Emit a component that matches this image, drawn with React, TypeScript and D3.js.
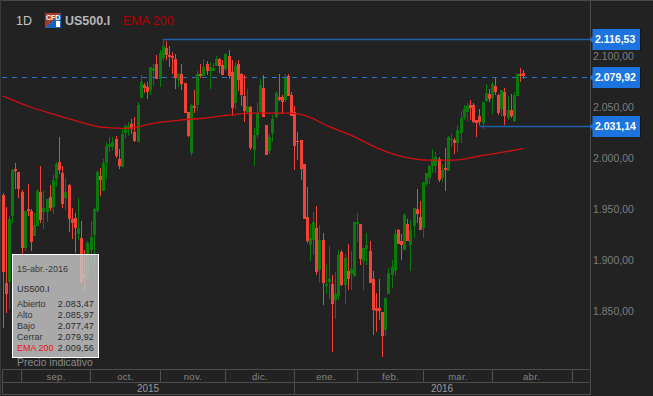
import React from "react";
import * as d3 from "d3";

const opens = [1964,1878,1879,1943,1989,1986,1967,1912,1950,1948,1924,1933,1967,1947,1947,1962,1952,1979,1996,1985,1961,1974,1940,1941,1926,1922,1885,1884,1910,1925,1948,1982,1968,1995,2011,2011,2019,1999,1991,2025,2028,2033,2026,2016,2059,2072,2070,2067,2085,2092,2077,2098,2108,2101,2100,2097,2076,2082,2074,2045,2005,2051,2052,2082,2080,2092,2085,2085,2090,2097,2091,2087,2100,2084,2054,2092,2082,2061,2045,2050,2008,2023,2045,2069,2032,2007,2025,2040,2060,2060,2057,2080,2062,2045,2017,2018,1994,1942,1915,1920,1931,1890,1920,1875,1879,1877,1861,1865,1908,1876,1889,1886,1884,1936,1935,1899,1911,1909,1881,1853,1853,1849,1831,1867,1885,1889,1929,1919,1910,1935,1915,1933,1950,1942,1931,1975,1980,1992,1992,1999,1980,1990,1987,2018,2018,2015,2025,2039,2045,2052,2052,2037,2041,2034,2056,2063,2059,2071,2062,2048,2065,2039,2047,2036,2061,2082,2083.47];
const highs = [1966,1952,1943,1989,1995,1986,1969,1948,1975,1950,1946,1970,1992,1968,1960,1974,1983,1996,2021,1992,1980,1975,1951,1946,1961,1938,1910,1919,1938,1951,1988,1990,1999,2016,2021,2021,2022,2009,2028,2033,2035,2038,2040,2055,2081,2074,2075,2089,2092,2101,2106,2117,2115,2110,2104,2102,2083,2092,2074,2045,2053,2067,2085,2092,2097,2095,2094,2093,2100,2098,2096,2103,2106,2096,2094,2096,2083,2081,2068,2051,2029,2054,2077,2081,2032,2024,2042,2066,2082,2062,2082,2082,2065,2051,2026,2018,1994,1972,1935,1947,1953,1934,1927,1896,1914,1885,1888,1910,1910,1906,1916,1909,1937,1946,1935,1912,1927,1919,1889,1868,1881,1849,1863,1892,1900,1930,1930,1926,1946,1940,1939,1951,1970,1958,1977,1985,1993,2009,2006,2001,1994,2010,2022,2024,2020,2032,2046,2052,2054,2057,2054,2037,2048,2055,2073,2068,2075,2079,2063,2067,2069,2061,2063,2065,2083,2088,2085.97];
const lows = [1833,1848,1852,1936,1970,1961,1902,1909,1943,1909,1924,1933,1936,1930,1937,1948,1945,1972,1984,1951,1949,1928,1921,1907,1920,1877,1870,1880,1898,1892,1946,1963,1968,1979,2006,2008,2000,1989,1991,2020,2022,2024,2016,2016,2059,2064,2058,2062,2071,2077,2070,2095,2096,2089,2082,2068,2070,2067,2044,2021,2002,2044,2046,2078,2080,2081,2068,2085,2090,2083,2081,2085,2077,2041,2048,2066,2051,2035,2044,2008,1992,2020,2045,2040,2003,2004,2016,2039,2056,2043,2055,2061,2041,1988,1998,1978,1940,1917,1899,1905,1885,1878,1856,1867,1862,1810,1842,1861,1875,1857,1871,1871,1883,1918,1895,1871,1895,1878,1827,1830,1841,1805,1826,1867,1873,1884,1916,1900,1910,1919,1889,1922,1936,1929,1922,1973,1975,1985,1985,1977,1977,1968,1987,2011,2004,2006,2015,2037,2036,2037,2034,2021,2032,2028,2055,2055,2043,2062,2042,2041,2032,2037,2039,2035,2061,2075,2077.47];
const closes = [1888,1867,1940,1988,1987,1970,1912,1948,1948,1918,1934,1968,1939,1951,1960,1951,1978,1994,1988,1955,1967,1940,1936,1931,1931,1879,1882,1917,1923,1950,1986,1978,1995,2012,2014,2016,2002,1992,2024,2031,2031,2028,2017,2052,2075,2069,2065,2089,2088,2077,2103,2110,2101,2099,2098,2078,2082,2073,2044,2022,2052,2049,2082,2080,2089,2085,2089,2088,2097,2090,2081,2102,2080,2049,2090,2076,2062,2046,2051,2010,2023,2044,2072,2040,2003,2021,2038,2064,2057,2055,2078,2061,2041,2012,2016,1989,1940,1919,1922,1937,1888,1920,1878,1877,1881,1857,1867,1905,1876,1902,1881,1891,1937,1937,1901,1912,1915,1878,1851,1850,1850,1826,1863,1887,1893,1926,1916,1915,1944,1919,1929,1951,1945,1929,1977,1985,1992,1999,2001,1978,1988,1988,2021,2019,2015,2027,2039,2048,2051,2049,2035,2034,2035,2055,2064,2058,2073,2065,2044,2067,2041,2047,2041,2062,2082,2081,2079.92];

const emaDays = [0,8,16,24,32,40,48,56,64,72,80,88,92,96,104,112,120,128,136,144,152,160,166];
const emaValues = [2061,2051,2043,2036,2030,2029,2034,2037,2039,2042,2044,2044,2044,2042,2031,2021,2009,2001,1998,1998,2002,2006,2009.56];

const axisTicks = [2100, 2050, 2000, 1950, 1900, 1850];
const axisTickLabels = ["2.100,00", "2.050,00", "2.000,00", "1.950,00", "1.900,00", "1.850,00"];
const priceTags = [2116.53, 2079.92, 2031.14];
const priceTagLabels = ["2.116,53", "2.079,92", "2.031,14"];
const highLineStartDay = 51;
const lowLineStartDay = 152;

const monthLabels = ["sep.", "oct.", "nov.", "dic.", "ene.", "feb.", "mar.", "abr."];
const monthStartDays = [5.7, 27.7, 50, 71, 93, 113, 134, 156, 181.5];
const yearLabels = ["2015", "2016"];
const infoLabels = ["Abierto", "Alto", "Bajo", "Cerrar", "EMA 200"];
const infoValues = ["2.083,47", "2.085,97", "2.077,47", "2.079,92", "2.009,56"];

const W = 653;
const H = 396;
const AXIS_X = 590.5;
const UP = "#0a7a0a";
const DOWN = "#f44336";
const SANS = "'Liberation Sans', Arial, sans-serif";

const x = d3.scaleLinear().domain([0, 166]).range([2.7, 523.3]);
const y = d3.scaleLinear().domain([1850, 2100]).range([311.1, 56]);
const rowY = (v: number) => Math.round(y(v) + 0.2) + 0.5;

export default function App() {
  const line = d3
    .line<number>()
    .x((_, i) => x(emaDays[i]))
    .y((v) => y(v))
    .curve(d3.curveMonotoneX);

  const monthX = monthStartDays.map((d) => Math.round(x(d)) + 0.5);
  const yearSplit = monthX[4];

  return (
    <svg
      width={W}
      height={H}
      viewBox={`0 0 ${W} ${H}`}
      style={{ position: "fixed", left: 0, top: 0, background: "#222222", fontFamily: SANS }}
    >
      <rect x={0} y={0} width={W} height={1} fill="#4a4a4a" />
      <rect x={0} y={0} width={1} height={H} fill="#3a3a3a" />

      {/* reference lines */}
      <line x1={x(highLineStartDay)} x2={AXIS_X + 2} y1={rowY(priceTags[0])} y2={rowY(priceTags[0])} stroke="#1f5fa8" strokeWidth={1.4} />
      <line x1={2} x2={AXIS_X + 2} y1={rowY(priceTags[1])} y2={rowY(priceTags[1])} stroke="#2b74c8" strokeWidth={1} strokeDasharray="5 5" shapeRendering="crispEdges" />
      <line x1={x(lowLineStartDay)} x2={AXIS_X + 2} y1={rowY(priceTags[2])} y2={rowY(priceTags[2])} stroke="#1f5fa8" strokeWidth={1.4} />

      {/* candles */}
      <g shapeRendering="crispEdges">
        {opens.map((o, i) => {
          const c = closes[i];
          const color = c >= o ? UP : DOWN;
          const cx = Math.round(x(i));
          const top = y(Math.max(o, c));
          const bot = y(Math.min(o, c));
          return (
            <g key={i} fill={color}>
              <rect x={cx} y={y(highs[i])} width={1} height={y(lows[i]) - y(highs[i])} />
              <rect x={cx - 1} y={top} width={3} height={Math.max(bot - top, 1.5)} />
            </g>
          );
        })}
      </g>

      {/* EMA */}
      <path d={line(emaValues) ?? ""} fill="none" stroke="#d01010" strokeWidth={1.3} />

      {/* title */}
      <text x={16} y={24.5} fontSize={12.5} fill="#c4c4c4">1D</text>
      <g>
        <rect x={45} y={13} width={16} height={15} fill="#1565c0" />
        <path d="M45 13H61L45 28Z" fill="#a8392c" />
        <text x={46} y={20} fontSize={7} fontWeight="bold" fill="#fff">CFD</text>
        <rect x={56} y={21} width={4} height={6} fill="#fff" />
      </g>
      <text x={65} y={24.5} fontSize={12.5} fontWeight="bold" fill="#b8b8b8">US500.I</text>
      <text x={123} y={24.5} fontSize={12.5} fill="#b50000">EMA 200</text>

      {/* right axis */}
      <rect x={590} y={0} width={1} height={395} fill="#4a4a4a" shapeRendering="crispEdges" />
      {axisTicks.map((t, i) => (
        <text key={t} x={593} y={y(t) + 3.8} fontSize={10.5} fill="#7d7d7d">{axisTickLabels[i]}</text>
      ))}
      {priceTags.map((p, i) => {
        const cy = rowY(p);
        return (
          <g key={p}>
            <path d={`M589.5 ${cy}L592.5 ${cy - 3}V${cy - 10.5}H640V${cy + 10.5}H592.5V${cy + 3}Z`} fill="#1b74e0" />
            <rect x={640} y={cy - 10} width={1} height={21} fill="#111" />
            <text x={595} y={cy + 3.8} fontSize={10.5} fontWeight="bold" fill="#ffffff">{priceTagLabels[i]}</text>
          </g>
        );
      })}

      {/* time axis */}
      <g shapeRendering="crispEdges" stroke="#4d4d4d" strokeWidth={1} fill="none">
        <line x1={2} x2={591} y1={369.5} y2={369.5} />
        <line x1={2} x2={591} y1={382.5} y2={382.5} />
        <line x1={2} x2={591} y1={394.5} y2={394.5} />
        <line x1={2.5} x2={2.5} y1={369} y2={395} />
        {monthX.map((m, i) => (
          <line key={i} x1={m} x2={m} y1={369} y2={382} />
        ))}
        <line x1={yearSplit} x2={yearSplit} y1={382} y2={395} />
      </g>
      {monthLabels.map((m, i) => (
        <text key={m} x={(monthX[i] + monthX[i + 1]) / 2 - (i === 7 ? 1 : 0)} y={379.5} fontSize={9.5} fill="#858585" textAnchor="middle" letterSpacing={0.3}>{m}</text>
      ))}
      <text x={148} y={392} fontSize={10} fill="#9a9a9a" textAnchor="middle">{yearLabels[0]}</text>
      <text x={442} y={392} fontSize={10} fill="#9a9a9a" textAnchor="middle">{yearLabels[1]}</text>

      {/* info box */}
      <rect x={12.5} y={254.5} width={86} height={103} fill="#c4c4c4" fillOpacity={0.84} stroke="#ffffff" strokeWidth={1} shapeRendering="crispEdges" />
      <text x={17} y={272} fontSize={9} fill="#3a3a3a">15-abr.-2016</text>
      <text x={17} y={292} fontSize={9} fill="#2c2c2c">US500.I</text>
      {infoLabels.map((l, i) => {
        const ry = 307.3 + i * 10.95;
        return (
          <g key={l} fontSize={9}>
            <text x={17} y={ry} fill={i === 4 ? "#ee1111" : "#333333"}>{l}</text>
            <text x={94} y={ry} fill="#2a2a2a" textAnchor="end" letterSpacing={0.15}>{infoValues[i]}</text>
          </g>
        );
      })}
      <text x={17} y={366} fontSize={10.4} fill="#8a8a8a">Precio indicativo</text>
    </svg>
  );
}
